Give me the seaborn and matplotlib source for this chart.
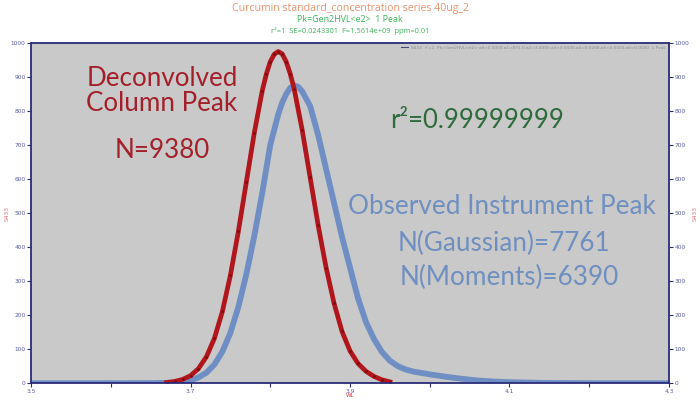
import numpy as np
import pandas as pd
import matplotlib
matplotlib.use("Agg")
import matplotlib.pyplot as plt
from matplotlib.lines import Line2D
import seaborn as sns

# ---- data ----
red_x = [3.67, 3.68, 3.69, 3.70, 3.71, 3.72, 3.73, 3.74, 3.75, 3.76, 3.77, 3.78, 3.79,
         3.795, 3.80, 3.805, 3.81, 3.815, 3.82, 3.825, 3.83, 3.84, 3.85, 3.86, 3.87,
         3.88, 3.89, 3.90, 3.91, 3.92, 3.93, 3.94, 3.95]
red_y = [2, 5, 11, 22, 43, 78, 132, 211, 317, 446, 591, 736, 860,
         908, 945, 967, 975, 968, 945, 910, 865, 745, 605, 465, 340,
         235, 152, 95, 58, 35, 20, 10, 4]

blue_x = [3.50, 3.55, 3.60, 3.65, 3.67, 3.68, 3.69, 3.70, 3.71, 3.72, 3.73, 3.74, 3.75,
          3.76, 3.77, 3.78, 3.79, 3.80, 3.81, 3.815, 3.82, 3.825, 3.83, 3.835, 3.84,
          3.85, 3.86, 3.87, 3.88, 3.89, 3.90, 3.91, 3.92, 3.93, 3.94, 3.95, 3.96, 3.97,
          3.98, 3.99, 4.00, 4.02, 4.04, 4.06, 4.08, 4.10, 4.14, 4.20, 4.25, 4.30]
blue_y = [0, 0, 0, 0.1, 1, 2, 4, 8, 17, 31, 55, 93, 148,
          224, 320, 433, 560, 700, 790, 825, 850, 868, 875, 871, 858,
          815, 730, 630, 530, 430, 340, 250, 180, 130, 92, 66, 50, 40,
          34, 30, 26, 19, 13, 8, 5, 3, 1, 0, 0, 0]

title_lines = ["Curcumin standard_concentration series 40ug_2",
               "Pk=Gen2HVL<e2>  1 Peak",
               "r\u00b2=1  SE=0.0243301  F=1.5614e+09  ppm=0.01"]
legend_label = ("S433  r\u00b2=1  Pk=Gen2HVL<e2> a0=0.0000,a1=875.0,a2=3.8300,"
                "a3=0.0430,a4=0.0268,a5=0.0000,a6=0.0000  1 Peak")
x_ticks = [3.5, 3.7, 3.9, 4.1, 4.3]
x_minor = [3.6, 3.8, 4.0, 4.2]
y_ticks = [0, 100, 200, 300, 400, 500, 600, 700, 800, 900, 1000]

df_red = pd.DataFrame({"WL": red_x, "S433": red_y})
df_blue = pd.DataFrame({"WL": blue_x, "S433": blue_y})

fig = plt.figure(figsize=(7, 4), dpi=100)
ax = fig.add_axes([0.0443, 0.042, 0.9114, 0.8505])
ax.set_facecolor("#c9c9c9")

RED = "#b0161c"
BLUE = "#6f8fc4"
NAVY = "#2b2b78"
TICKC = "#5a5aa8"

sns.lineplot(data=df_blue, x="WL", y="S433", ax=ax, color=BLUE, lw=4.2,
             sort=False, legend=False)
sns.lineplot(data=df_red, x="WL", y="S433", ax=ax, color=RED, lw=3.4,
             sort=False, marker="o", markersize=2.0, markeredgewidth=0,
             markerfacecolor="#7a0c10", legend=False)

ax.set_xlim(3.5, 4.3)
ax.set_ylim(0, 1000)
ax.set_xticks(x_ticks)
ax.set_xticks(x_minor, minor=True)
ax.set_yticks(y_ticks)
ax.tick_params(axis="both", which="both", colors=NAVY, labelcolor=TICKC,
               labelsize=4.2, length=3, width=0.8, direction="out", pad=1.0)
ax.tick_params(axis="x", which="minor", labelbottom=False)
for s in ax.spines.values():
    s.set_color(NAVY)
    s.set_linewidth(1.3)
ax.set_xlabel("WL", color="#d03040", fontsize=4.0)
ax.xaxis.set_label_coords(0.5, -0.029)
ax.set_ylabel("S433", color="#e07080", fontsize=4.2)
ax.yaxis.set_label_coords(-0.034, 0.5)

ax2 = ax.twinx()
ax2.set_ylim(0, 1000)
ax2.set_yticks(y_ticks)
ax2.tick_params(axis="y", colors=NAVY, labelcolor=TICKC, labelsize=4.2,
                length=3, width=0.8, pad=1.0)
for s in ax2.spines.values():
    s.set_visible(False)
ax2.set_ylabel("S433", color="#e07080", fontsize=4.2)
ax2.yaxis.set_label_coords(1.037, 0.5)

handle = Line2D([], [], color="#4a4a7a", lw=0.8)
ax.legend([handle], [legend_label], loc="upper right", fontsize=3.1, frameon=False,
          handlelength=1.6, borderaxespad=0.25, labelcolor="#8a8a9a")

# titles
fig.text(0.5, 0.978, title_lines[0], ha="center", va="center", color="#e8946c",
         fontsize=7.6, family="Open Sans")
fig.text(0.5, 0.950, title_lines[1], ha="center", va="center", color="#3cb45a",
         fontsize=6.4, family="Open Sans")
fig.text(0.5, 0.922, title_lines[2], ha="center", va="center", color="#3cb45a",
         fontsize=5.4, family="Open Sans")

FONT = ["Lato", "DejaVu Sans"]
def px(xp, yp):
    return (xp / 700.0, 1 - yp / 400.0)

fig.text(*px(162, 91), "Deconvolved\nColumn Peak", ha="center", va="center",
         color="#a3202a", fontsize=18.7, family=FONT, linespacing=0.98)
fig.text(*px(162, 151), "N=9380", ha="center", va="center",
         color="#a3202a", fontsize=18.7, family=FONT)
fig.text(*px(477, 120), "r\u00b2=0.99999999", ha="center", va="center",
         color="#2f6a3c", fontsize=18.5, family=FONT)
fig.text(*px(502, 207), "Observed Instrument Peak", ha="center", va="center",
         color="#6f8fc0", fontsize=18.8, family=FONT)
fig.text(*px(504, 243), "N(Gaussian)=7761", ha="center", va="center",
         color="#6f8fc0", fontsize=18.8, family=FONT)
fig.text(*px(509, 277), "N(Moments)=6390", ha="center", va="center",
         color="#6f8fc0", fontsize=18.8, family=FONT)

fig.savefig("out.png", dpi=100, facecolor="white")
